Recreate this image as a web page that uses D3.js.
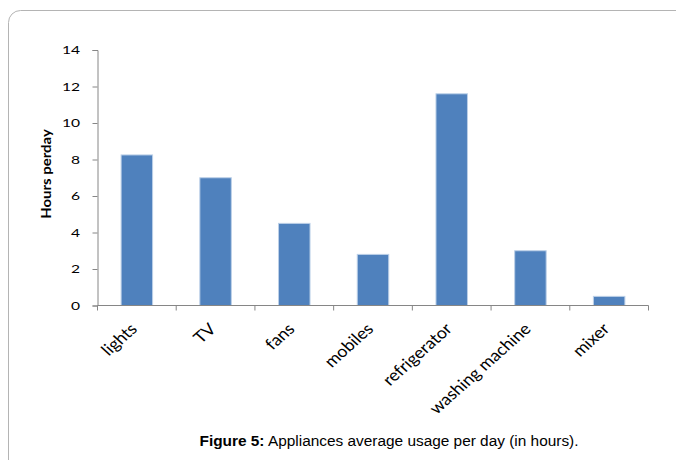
<!DOCTYPE html>
<html>
<head>
<meta charset="utf-8">
<script src="https://cdn.jsdelivr.net/npm/d3@7"></script>
<style>
  html, body { margin: 0; padding: 0; background: #fff; }
  svg { display: block; }
</style>
</head>
<body>
<svg id="chart" width="676" height="460"></svg>
<script>
// Appliance usage data (hours per day)
const categories = ["lights", "TV", "fans", "mobiles", "refrigerator", "washing machine", "mixer"];
const hours = [8.25, 7, 4.5, 2.8, 11.6, 3, 0.5];
const yTicks = [0, 2, 4, 6, 8, 10, 12, 14];

(function () {
  const svg = d3.select("#chart");
  const W = 676, H = 460;

  // Panel frame with rounded left corners
  svg.append("rect")
    .attr("x", 8.5).attr("y", 10.5)
    .attr("width", W + 20).attr("height", H + 20)
    .attr("rx", 12).attr("ry", 12)
    .attr("fill", "#fff")
    .attr("stroke", "#b4b4b4")
    .attr("stroke-width", 1);

  const plotLeft = 97.5, plotRight = 648.5, plotTop = 50, plotBottom = 305.5;

  const x = d3.scaleBand().domain(categories).range([plotLeft, plotRight]).paddingInner(0.6).paddingOuter(0.3);
  const xAxisScale = d3.scaleBand().domain(categories).range([plotLeft, plotRight]);
  const y = d3.scaleLinear().domain([0, 14]).range([plotBottom, plotTop]);

  const axisColor = "#868686";
  const tickFont = "Lato, 'Open Sans', sans-serif";
  // Chart text is drawn slightly widened
  const sx = 1.3, sy = 0.95;

  // Y axis
  const yAxis = svg.append("g")
    .attr("transform", `translate(${plotLeft},0)`)
    .call(d3.axisLeft(y).tickValues(yTicks).tickSize(5).tickPadding(10).tickFormat(d3.format("d")));
  yAxis.select(".domain").attr("stroke", axisColor);
  yAxis.selectAll(".tick line").attr("stroke", axisColor);
  yAxis.selectAll(".tick text")
    .attr("x", -17.5 / sx)
    .attr("transform", `scale(${sx},${sy})`)
    .attr("fill", "#000")
    .style("font-family", tickFont)
    .style("font-size", "12px");

  // Bars
  svg.append("g").selectAll("rect")
    .data(categories)
    .join("rect")
    .attr("x", d => x(d))
    .attr("width", x.bandwidth())
    .attr("y", (d, i) => y(hours[i]))
    .attr("height", (d, i) => y(0) - y(hours[i]))
    .attr("fill", "#4f81bd")
    .attr("stroke", "#bcd0e8")
    .attr("stroke-width", 1);

  // X axis: ticks sit on category boundaries
  const xAxis = svg.append("g").attr("transform", `translate(0,${plotBottom})`);
  xAxis.append("line")
    .attr("x1", plotLeft).attr("x2", plotRight)
    .attr("stroke", axisColor);
  const boundaries = categories.map(c => xAxisScale(c)).concat([plotRight]);
  xAxis.selectAll("line.tick")
    .data(boundaries)
    .join("line")
    .attr("class", "tick")
    .attr("x1", d => d).attr("x2", d => d)
    .attr("y1", 0).attr("y2", 5)
    .attr("stroke", axisColor);

  // Rotated category labels
  xAxis.selectAll("text.cat")
    .data(categories)
    .join("text")
    .attr("class", "cat")
    .attr("transform", d => `translate(${xAxisScale(d) + xAxisScale.bandwidth() / 2 + 1.5},24.5) scale(1.12,1) rotate(-45)`)
    .attr("text-anchor", "end")
    .style("font-family", tickFont)
    .style("font-size", "16px")
    .attr("fill", "#000")
    .text(d => d);

  // Y axis title
  svg.append("text")
    .attr("transform", `translate(51,174) scale(1,1.15) rotate(-90)`)
    .attr("text-anchor", "middle")
    .style("font-family", tickFont)
    .style("font-size", "13px")
    .style("font-weight", "bold")
    .attr("fill", "#000")
    .text("Hours perday");

  // Figure caption
  const cap = svg.append("text")
    .attr("x", 389).attr("y", 446)
    .attr("text-anchor", "middle")
    .style("font-family", "'Liberation Sans', Arial, sans-serif")
    .style("font-size", "15.4px")
    .attr("fill", "#000");
  cap.append("tspan").style("font-weight", "bold").text("Figure 5:");
  cap.append("tspan").text(" Appliances average usage per day (in hours).");
})();
</script>
</body>
</html>
